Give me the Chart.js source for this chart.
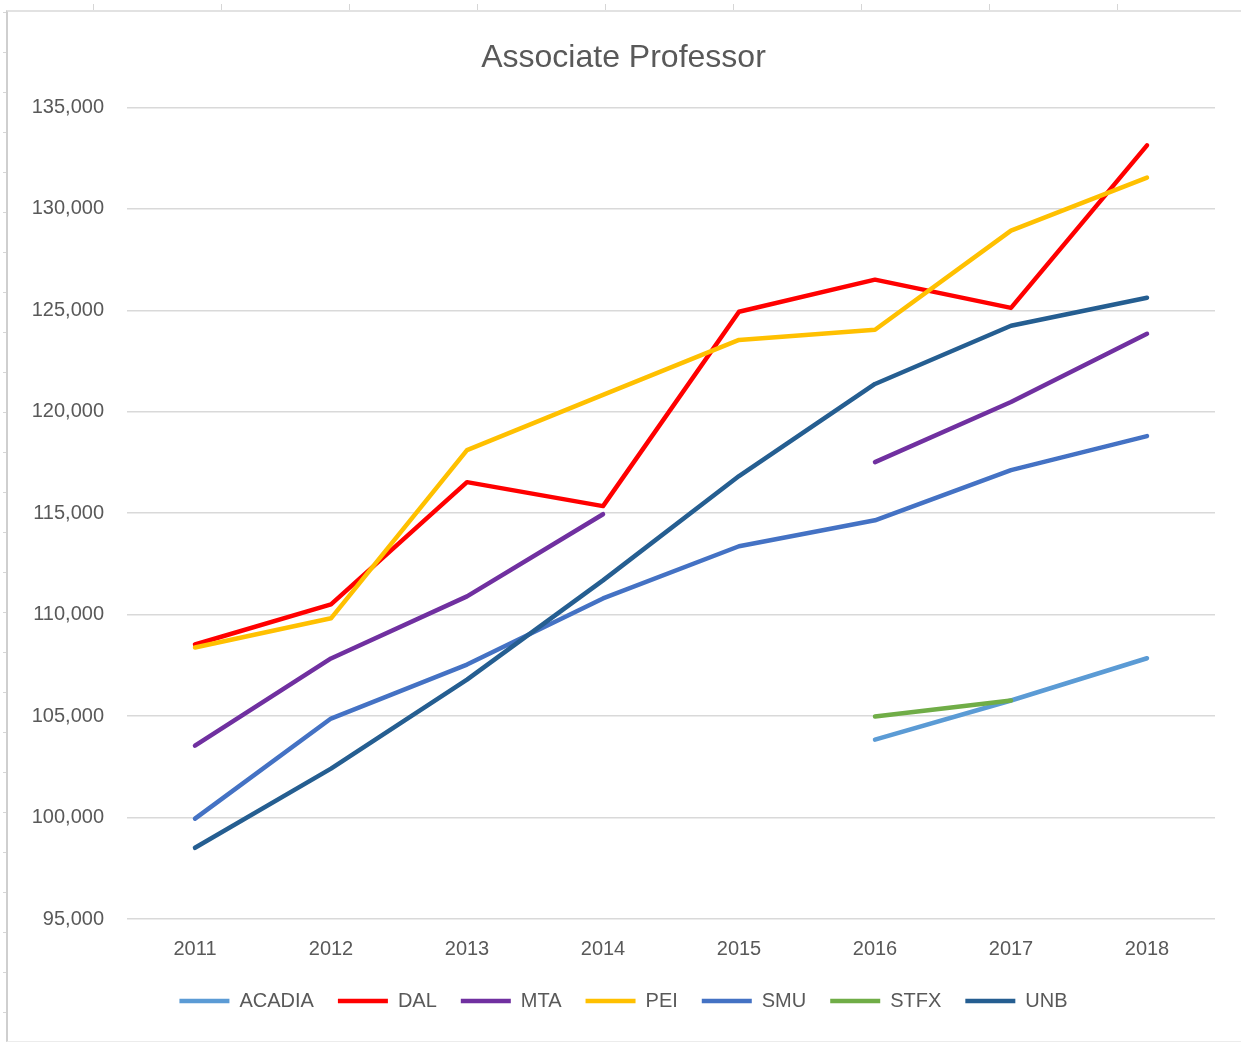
<!DOCTYPE html>
<html>
<head>
<meta charset="utf-8">
<script src="https://cdn.jsdelivr.net/npm/chart.js@4/dist/chart.umd.min.js"></script>
<style>
  body { margin: 0; background: #fff; width: 1241px; height: 1042px; overflow: hidden; position: relative; }
  /* spreadsheet cell lines peeking out around the chart frame */
  #colTicks { position: absolute; left: 0; top: 4px; width: 1241px; height: 8px;
    background: repeating-linear-gradient(to right, transparent 0, transparent 93px, #d6d6d6 93px, #d6d6d6 94px, transparent 94px, transparent 128px); }
  #rowTicks { position: absolute; left: 3px; top: 12px; width: 4px; height: 1030px;
    background: repeating-linear-gradient(to bottom, #d6d6d6 0, #d6d6d6 1px, transparent 1px, transparent 40px); }
  #frame { position: absolute; left: 6px; top: 10px; width: 1235px; height: 1029px;
    border-left: 2px solid #cfcfcf; border-top: 2px solid #e2e2e2; border-bottom: 1px solid #ececec; }
  canvas { display: block; }
</style>
</head>
<body>
<div id="colTicks"></div>
<div id="rowTicks"></div>
<div id="frame"><canvas id="salaryChart" width="1235" height="1028"></canvas></div>
<script>
// Values
const years = ['2011', '2012', '2013', '2014', '2015', '2016', '2017', '2018'];
const acadia = [null, null, null, null, null, 103840, 105770, 107850];
const dal = [108530, 110510, 116530, 115350, 124930, 126510, 125120, 133130];
const mta = [103540, 107840, 110900, 114950, null, 117520, 120480, 123840];
const pei = [108380, 109820, 118110, 120830, 123540, 124040, 128930, 131540];
const smu = [99950, 104880, 107540, 110800, 113370, 114650, 117120, 118800];
const stfx = [null, null, null, null, null, 104980, 105770, null];
const unb = [98510, 102410, 106800, 111690, 116830, 121370, 124240, 125620];

const textColor = '#595959';
Chart.defaults.font.family = '"Liberation Sans", Arial, sans-serif';
Chart.defaults.color = textColor;

function series(label, data, color, order) {
  return {
    label: label,
    data: data,
    borderColor: color,
    backgroundColor: color,
    borderWidth: 4.5,
    borderCapStyle: 'round',
    borderJoinStyle: 'round',
    pointRadius: 0,
    pointHoverRadius: 0,
    tension: 0,
    fill: false,
    spanGaps: false,
    order: order, // later series drawn on top, like Excel
  };
}

const ctx = document.getElementById('salaryChart').getContext('2d');

new Chart(ctx, {
  type: 'line',
  data: {
    labels: years,
    datasets: [
      series('ACADIA', acadia, '#5B9BD5', 7),
      series('DAL', dal, '#FF0000', 6),
      series('MTA', mta, '#7030A0', 5),
      series('PEI', pei, '#FFC000', 4),
      series('SMU', smu, '#4472C4', 3),
      series('STFX', stfx, '#70AD47', 2),
      series('UNB', unb, '#255E91', 1),
    ],
  },
  options: {
    responsive: false,
    animation: false,
    layout: {
      padding: { left: 24, right: 28, top: 0, bottom: 19 },
    },
    plugins: {
      title: {
        display: true,
        text: 'Associate Professor',
        color: textColor,
        font: { size: 32, weight: 'normal' },
        padding: { top: 27, bottom: 30 },
      },
      legend: {
        position: 'bottom',
        labels: {
          usePointStyle: true,
          pointStyle: 'line',
          pointStyleWidth: 50,
          padding: 24,
          color: textColor,
          font: { size: 20 },
          sort: (a, b) => a.datasetIndex - b.datasetIndex,
        },
      },
      tooltip: { enabled: false },
    },
    scales: {
      x: {
        offset: true,
        grid: { display: false, drawTicks: false },
        border: { display: false },
        ticks: { padding: 18, color: textColor, font: { size: 20 } },
        afterFit: (scale) => { scale.height -= 12; },
      },
      y: {
        min: 95000,
        max: 135000,
        grid: { color: '#d9d9d9', lineWidth: 1.5, drawTicks: false },
        border: { display: false },
        ticks: {
          stepSize: 5000,
          padding: 23,
          color: textColor,
          font: { size: 20 },
          callback: (v) => v.toLocaleString('en-US'),
        },
        afterFit: (scale) => { scale.width = 95; },
      },
    },
  },
});
</script>
</body>
</html>
